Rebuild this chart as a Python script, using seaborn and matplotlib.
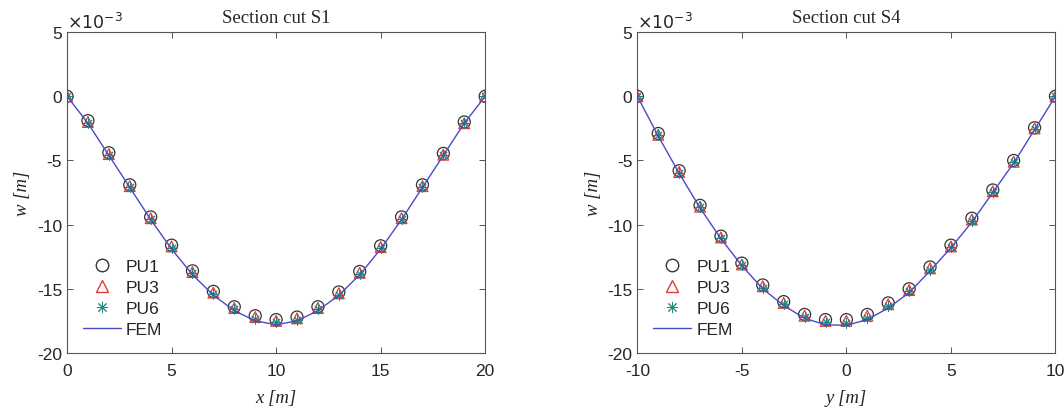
import numpy as np
import pandas as pd
import seaborn as sns
import matplotlib.pyplot as plt
from matplotlib.lines import Line2D
from matplotlib.ticker import FuncFormatter

#%% Data (w in mm, scaled to m below)
x_s1 = list(range(0, 21))
pu1_s1 = [0, -1.9, -4.4, -6.9, -9.4, -11.6, -13.6, -15.2, -16.4, -17.1, -17.4,
          -17.2, -16.4, -15.25, -13.65, -11.65, -9.4, -6.9, -4.45, -2.0, 0]
pu3_s1 = [0, -2.0, -4.5, -7.0, -9.5, -11.7, -13.7, -15.3, -16.5, -17.2, -17.5,
          -17.3, -16.5, -15.35, -13.75, -11.75, -9.5, -7.0, -4.55, -2.1, 0]
pu6_s1 = [0, -2.05, -4.55, -7.05, -9.55, -11.8, -13.8, -15.4, -16.6, -17.35, -17.6,
          -17.4, -16.6, -15.45, -13.85, -11.85, -9.55, -7.05, -4.6, -2.1, 0]
fem_s1 = [0, -2.1, -4.6, -7.1, -9.6, -11.9, -13.9, -15.5, -16.7, -17.5, -17.8,
          -17.5, -16.7, -15.5, -13.9, -11.9, -9.6, -7.1, -4.6, -2.1, 0]

y_s4 = list(range(-10, 11))
pu1_s4 = [0, -2.9, -5.8, -8.5, -10.9, -13.0, -14.7, -16.0, -17.0, -17.4, -17.4,
          -17.0, -16.1, -15.0, -13.3, -11.6, -9.5, -7.3, -5.0, -2.45, 0]
pu3_s4 = [0, -3.0, -5.9, -8.6, -11.0, -13.1, -14.8, -16.1, -17.1, -17.5, -17.5,
          -17.1, -16.2, -15.1, -13.4, -11.7, -9.6, -7.4, -5.1, -2.5, 0]
pu6_s4 = [0, -3.05, -5.95, -8.65, -11.05, -13.15, -14.9, -16.2, -17.2, -17.6, -17.65,
          -17.25, -16.35, -15.2, -13.5, -11.75, -9.7, -7.45, -5.15, -2.55, 0]
fem_s4 = [0, -3.1, -6.0, -8.7, -11.1, -13.2, -15.0, -16.3, -17.3, -17.8, -17.85,
          -17.4, -16.5, -15.3, -13.6, -11.8, -9.8, -7.5, -5.2, -2.6, 0]

#%% Style
sns.set_theme(style='ticks')
plt.rcParams['font.family'] = ['Liberation Sans', 'DejaVu Sans']
plt.rcParams['axes.unicode_minus'] = False
plt.rcParams['xtick.direction'] = 'in'
plt.rcParams['ytick.direction'] = 'in'

c_pu1 = '#333333'
c_pu3 = '#e03a3a'
c_pu6 = '#1f8a78'
c_fem = '#4a4ac8'
asterisk = (8, 2, 0)

fig = plt.figure(figsize=(10.64, 4.14), dpi=100)
ax1 = fig.add_axes([0.063, 0.145, 0.393, 0.775])
ax2 = fig.add_axes([0.599, 0.145, 0.393, 0.775])


def draw(ax, xv, pu1, pu3, pu6, fem, title, xlabel, xlim, xticks):
    df = pd.DataFrame({'x': xv,
                       'PU1': np.array(pu1) * 1e-3,
                       'PU3': np.array(pu3) * 1e-3,
                       'PU6': np.array(pu6) * 1e-3,
                       'FEM': np.array(fem) * 1e-3})
    sns.lineplot(data=df, x='x', y='FEM', ax=ax, color=c_fem, linewidth=1.0)
    sns.scatterplot(data=df, x='x', y='PU1', ax=ax, marker='o', s=75,
                    facecolors='none', edgecolor=c_pu1, linewidth=0.9)
    sns.scatterplot(data=df, x='x', y='PU3', ax=ax, marker='^', s=60,
                    facecolors='none', edgecolor=c_pu3, linewidth=0.9)
    sns.scatterplot(data=df, x='x', y='PU6', ax=ax, marker=asterisk, s=45,
                    color=c_pu6, edgecolor=c_pu6, linewidth=0.7)

    ax.set_xlim(*xlim)
    ax.set_ylim(-20e-3, 5e-3)
    ax.set_xticks(xticks)
    ax.set_yticks(np.arange(-20, 6, 5) * 1e-3)
    ax.yaxis.set_major_formatter(FuncFormatter(lambda v, p: f'{round(v * 1e3):d}'))
    ax.text(0.0, 1.005, r'$\times10^{-3}$', transform=ax.transAxes,
            ha='left', va='bottom', fontsize=12.5)
    ax.tick_params(labelsize=12.5, top=True, right=True, length=4,
                   color='#555555', width=0.7)
    ax.tick_params(axis='x', pad=7)
    for sp in ax.spines.values():
        sp.set_visible(True)
        sp.set_color('#555555')
        sp.set_linewidth(0.8)

    ax.set_title(title, family='Liberation Serif', fontsize=13.5, pad=7)
    ax.set_xlabel(xlabel, family='Liberation Serif', style='italic',
                  fontsize=13.5, labelpad=8)
    ax.set_ylabel('w [m]', family='Liberation Serif', style='italic', fontsize=13.5)

    handles = [
        Line2D([], [], linestyle='', marker='o', markersize=9,
               markerfacecolor='none', markeredgecolor=c_pu1),
        Line2D([], [], linestyle='', marker='^', markersize=9,
               markerfacecolor='none', markeredgecolor=c_pu3),
        Line2D([], [], linestyle='', marker=asterisk, markersize=8,
               color=c_pu6, markeredgewidth=0.7),
        Line2D([], [], color=c_fem, linewidth=1.0),
    ]
    ax.legend(handles, ['PU1', 'PU3', 'PU6', 'FEM'], loc='lower left',
              bbox_to_anchor=(0.0, 0.0), frameon=False, fontsize=12.5,
              handlelength=2.2, handletextpad=0.3, labelspacing=0.35)


draw(ax1, x_s1, pu1_s1, pu3_s1, pu6_s1, fem_s1, 'Section cut S1', 'x [m]',
     (0, 20), [0, 5, 10, 15, 20])
draw(ax2, y_s4, pu1_s4, pu3_s4, pu6_s4, fem_s4, 'Section cut S4', 'y [m]',
     (-10, 10), [-10, -5, 0, 5, 10])

fig.savefig('out.png', dpi=100)
